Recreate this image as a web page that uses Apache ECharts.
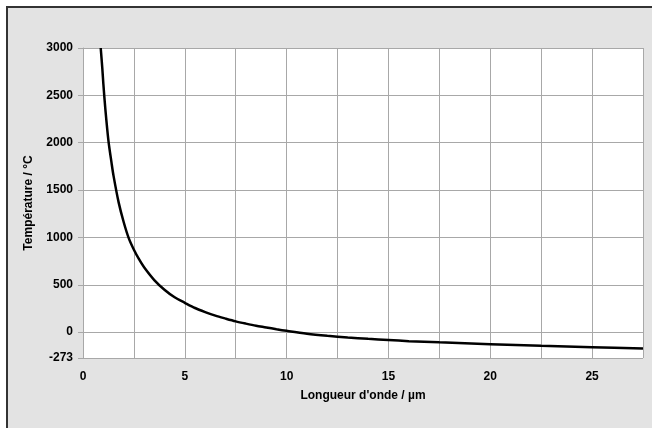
<!DOCTYPE html>
<html>
<head>
<meta charset="utf-8">
<script src="https://cdn.jsdelivr.net/npm/echarts@6/dist/echarts.min.js"></script>
<style>html,body{margin:0;padding:0;background:#fff}#c{width:652px;height:428px}</style>
</head>
<body>
<div id="c"></div>
<script>
// Wavelength (µm) and temperature (°C)
var wavelengths = [0.87, 0.95, 1.0, 1.1, 1.25, 1.4, 1.5, 1.75, 2.0, 2.25, 2.5, 2.75, 3.0, 3.5, 4.0, 4.5, 5.0, 5.5, 6.0, 6.5, 7.0, 7.5, 8.0, 8.5, 9.0, 9.5, 10.0, 11.0, 12.0, 13.0, 14.0, 15.0, 16.0, 17.5, 20.0, 22.5, 25.0, 27.5];
var temperatures = [3000, 2780, 2620, 2350, 2020, 1790, 1650, 1370, 1160, 990, 870, 770, 685, 550, 448, 368, 310, 255, 212, 174, 143, 114, 90, 68, 50, 31, 14, -16, -38, -56, -70, -83, -95, -108, -127, -144, -159, -172];
var yTickValues = [-273, 0, 500, 1000, 1500, 2000, 2500, 3000];
var xLabelValues = [0, 5, 10, 15, 20, 25];

var points = wavelengths.map(function (w, i) { return [w, temperatures[i]]; });

var chart = echarts.init(document.getElementById('c'), null, {renderer: 'canvas'});
var font = '"Liberation Sans", Arial, sans-serif';
function plain(v) { return String(Math.round(v)); }
chart.setOption({
  animation: false,
  backgroundColor: '#ffffff',
  graphic: [{
    type: 'rect', z: -10, silent: true,
    shape: {x: 7, y: 7, width: 700, height: 500},
    style: {fill: '#e3e3e3', stroke: '#333333', lineWidth: 2}
  }],
  grid: {left: 83, top: 48, right: 9, bottom: 70, show: true, backgroundColor: '#ffffff', borderWidth: 0},
  xAxis: {
    type: 'value', min: 0, max: 27.5, interval: 2.5,
    name: "Longueur d'onde / µm", nameLocation: 'middle', nameGap: 32,
    nameTextStyle: {fontFamily: font, fontWeight: 'bold', fontSize: 12, color: '#000'},
    axisLine: {show: true, lineStyle: {color: '#a8a8a8', width: 1}},
    axisTick: {show: true, length: 5, lineStyle: {color: '#a8a8a8'}},
    axisLabel: {
      margin: 13, fontFamily: font, fontWeight: 'bold', fontSize: 12, color: '#000',
      customValues: xLabelValues, formatter: plain
    },
    splitLine: {show: true, lineStyle: {color: '#a8a8a8', width: 1}}
  },
  yAxis: {
    type: 'value', min: -273, max: 3000,
    name: 'Température / °C', nameLocation: 'middle', nameGap: 48,
    nameTextStyle: {fontFamily: font, fontWeight: 'bold', fontSize: 12, color: '#000'},
    axisLine: {show: true, lineStyle: {color: '#a8a8a8', width: 1}},
    axisTick: {show: true, length: 5, lineStyle: {color: '#a8a8a8'}, customValues: yTickValues},
    axisLabel: {
      margin: 10, fontFamily: font, fontWeight: 'bold', fontSize: 12, color: '#000',
      customValues: yTickValues, formatter: plain
    },
    splitLine: {show: true, lineStyle: {color: '#a8a8a8', width: 1}}
  },
  series: [{
    type: 'line', data: points, smooth: 0.3, showSymbol: false,
    lineStyle: {color: '#000', width: 2.5},
    clip: true
  }]
});
</script>
</body>
</html>
